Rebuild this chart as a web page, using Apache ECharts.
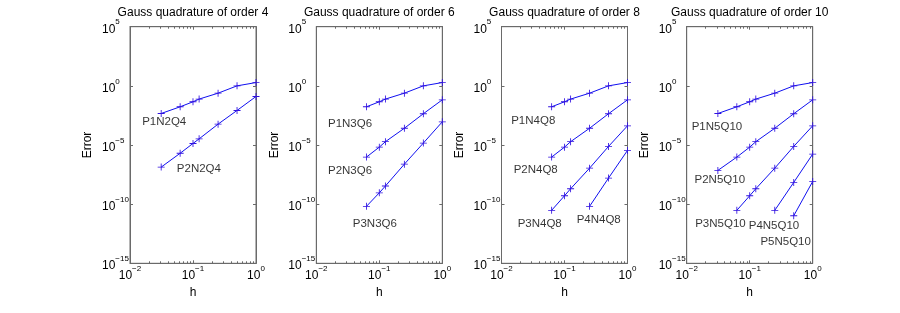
<!DOCTYPE html>
<html><head><meta charset="utf-8">
<script src="https://cdn.jsdelivr.net/npm/echarts@6/dist/echarts.min.js"></script>
<style>html,body{margin:0;padding:0;background:#fff}#c{width:900px;height:313px}</style>
</head><body><div id="c"></div>
<script>
// mesh sizes h
const h = [1, 0.5, 0.25, 0.125, 0.1, 0.0625, 0.03125];
const titles = ['Gauss quadrature of order 4', 'Gauss quadrature of order 6', 'Gauss quadrature of order 8', 'Gauss quadrature of order 10'];
const xTickExp = [-2, -1, 0];
const yTickExp = [-15, -10, -5, 0, 5];

// errors
const P1N2Q4 = [1.9, 1.0, 0.24, 0.076, 0.045, 0.017, 0.0046];
const P2N2Q4 = [0.126, 8.3e-3, 5.8e-4, 3.3e-5, 1.35e-5, 2.0e-6, 1.35e-7];
const P1N3Q6 = [1.9, 1.0, 0.24, 0.076, 0.045, 0.017];
const P2N3Q6 = [0.066, 4.4e-3, 2.6e-4, 1.9e-5, 6.6e-6, 9.5e-7];
const P3N3Q6 = [9.1e-4, 1.45e-5, 2.4e-7, 3.4e-9, 9.1e-10, 6.5e-11];
const P1N4Q8 = [1.9, 1.0, 0.24, 0.076, 0.045, 0.017];
const P2N4Q8 = [0.066, 4.4e-3, 2.6e-4, 1.9e-5, 6.6e-6, 9.5e-7];
const P3N4Q8 = [4.2e-4, 7.6e-6, 1.1e-7, 2.0e-9, 5.1e-10, 3.0e-11];
const P4N4Q8 = [3.5e-6, 1.6e-8, 6.5e-11];
const P1N5Q10 = [1.9, 1.0, 0.24, 0.076, 0.045, 0.017, 0.0046];
const P2N5Q10 = [0.066, 4.4e-3, 2.6e-4, 1.9e-5, 6.6e-6, 9.5e-7, 7.1e-8];
const P3N5Q10 = [4.2e-4, 7.6e-6, 1.1e-7, 2.0e-9, 5.1e-10, 3.0e-11];
const P4N5Q10 = [1.7e-6, 6.9e-9, 3.0e-11];
const P5N5Q10 = [8.3e-9, 1.05e-11];

// text annotation anchors [h, error]
const labelAt = {
  P1N2Q4: [0.0349, 1e-3], P2N2Q4: [0.124, 1e-7],
  P1N3Q6: [0.0343, 5.8e-4], P2N3Q6: [0.0343, 6.6e-8], P3N3Q6: [0.0849, 2.2e-12],
  P1N4Q8: [0.0319, 1.2e-3], P2N4Q8: [0.0349, 8.1e-8], P3N4Q8: [0.0404, 2.2e-12], P4N4Q8: [0.349, 4.3e-12],
  P1N5Q10: [0.0302, 3.6e-4], P2N5Q10: [0.0335, 1.15e-8], P3N5Q10: [0.0343, 2.2e-12], P4N5Q10: [0.243, 1.6e-12], P5N5Q10: [0.372, 6.3e-14]
};

const panels = [
  [['P1N2Q4', P1N2Q4], ['P2N2Q4', P2N2Q4]],
  [['P1N3Q6', P1N3Q6], ['P2N3Q6', P2N3Q6], ['P3N3Q6', P3N3Q6]],
  [['P1N4Q8', P1N4Q8], ['P2N4Q8', P2N4Q8], ['P3N4Q8', P3N4Q8], ['P4N4Q8', P4N4Q8]],
  [['P1N5Q10', P1N5Q10], ['P2N5Q10', P2N5Q10], ['P3N5Q10', P3N5Q10], ['P4N5Q10', P4N5Q10], ['P5N5Q10', P5N5Q10]]
];

const FONT = 'Liberation Sans';
const gridLeft = [130, 316.3, 501.5, 686.7];
const gridTop = 26.7, gridW = 126, gridH = 236.6;
const AX = '#6a6a6a';
const minorX = [];
for (let d = -2; d < 0; d++) for (let m = 2; m <= 9; m++) minorX.push(d + Math.log10(m));

const supFmt = v => {
  const e = Math.round(v);
  return '{b|10}{s|' + (e < 0 ? '\u2212' + (-e) : e) + '}';
};
const rich = {
  b: {fontSize: 12, lineHeight: 17, verticalAlign: 'bottom', color: '#000', fontFamily: FONT},
  s: {fontSize: 8, lineHeight: 8, verticalAlign: 'top', color: '#000', fontFamily: FONT}
};
const plusSym = 'path://M4.4,0H5.6V10H4.4ZM0,4.4H10V5.6H0Z';

const grid = [], xAxis = [], yAxis = [], series = [], title = [];
panels.forEach((curves, i) => {
  grid.push({left: gridLeft[i], top: gridTop, width: gridW, height: gridH, show: true, borderColor: AX, borderWidth: 1, backgroundColor: '#fff'});
  title.push({text: titles[i], left: gridLeft[i] + gridW / 2, top: 7, padding: 0, textAlign: 'center',
    textStyle: {fontSize: 12, fontWeight: 'normal', color: '#000', fontFamily: FONT}});
  const base = {type: 'value', min: -2, max: 0, interval: 1, gridIndex: i, splitLine: {show: false},
    axisLine: {show: true, onZero: false, lineStyle: {color: AX}}};
  const xi = xAxis.length;
  xAxis.push(Object.assign({}, base, {position: 'bottom', name: 'h', nameLocation: 'middle', nameGap: 21,
    nameTextStyle: {fontSize: 12, color: '#000', fontFamily: FONT},
    axisTick: {show: true, inside: true, length: 3, lineStyle: {color: AX}},
    axisLabel: {margin: 1, formatter: supFmt, rich: rich, customValues: xTickExp}}));
  xAxis.push(Object.assign({}, base, {position: 'top', axisTick: {show: true, inside: true, length: 3, lineStyle: {color: AX}}, axisLabel: {show: false}}));
  xAxis.push(Object.assign({}, base, {position: 'bottom', axisLine: {show: false, onZero: false}, axisTick: {show: true, inside: true, length: 2, customValues: minorX, lineStyle: {color: AX}}, axisLabel: {show: false}}));
  xAxis.push(Object.assign({}, base, {position: 'top', axisLine: {show: false, onZero: false}, axisTick: {show: true, inside: true, length: 2, customValues: minorX, lineStyle: {color: AX}}, axisLabel: {show: false}}));
  const ybase = {type: 'value', min: -15, max: 5, interval: 5, gridIndex: i, splitLine: {show: false},
    axisLine: {show: true, onZero: false, lineStyle: {color: AX}}};
  const yi = yAxis.length;
  yAxis.push(Object.assign({}, ybase, {position: 'left', name: 'Error', nameLocation: 'middle', nameGap: 36,
    nameTextStyle: {fontSize: 12, color: '#000', fontFamily: FONT},
    axisTick: {show: true, inside: true, length: 3, lineStyle: {color: AX}},
    axisLabel: {margin: 28, align: 'left', formatter: supFmt, rich: rich, customValues: yTickExp}}));
  yAxis.push(Object.assign({}, ybase, {position: 'right', axisTick: {show: true, inside: true, length: 3, lineStyle: {color: AX}}, axisLabel: {show: false}}));

  curves.forEach(([name, err]) => {
    series.push({type: 'line', name: name, xAxisIndex: xi, yAxisIndex: yi, animation: false,
      data: err.map((e, k) => [Math.log10(h[k]), Math.log10(e)]),
      lineStyle: {color: '#1010f0', width: 1},
      symbol: plusSym, symbolSize: 7, itemStyle: {color: '#3010e0'}, showSymbol: true, z: 3});
    const a = labelAt[name];
    series.push({type: 'scatter', name: name + ' label', xAxisIndex: xi, yAxisIndex: yi, animation: false,
      data: [{name: name, value: [Math.log10(a[0]), Math.log10(a[1])]}],
      symbolSize: 1, itemStyle: {color: 'rgba(0,0,0,0)'}, silent: true,
      label: {show: true, position: 'inside', formatter: '{b}', fontSize: 11.5, color: '#000', fontFamily: FONT}, z: 4});
  });
});

const chart = echarts.init(document.getElementById('c'), null, {renderer: 'canvas'});
chart.setOption({backgroundColor: '#fff', animation: false, textStyle: {fontFamily: FONT}, title, grid, xAxis, yAxis, series});
</script></body></html>
